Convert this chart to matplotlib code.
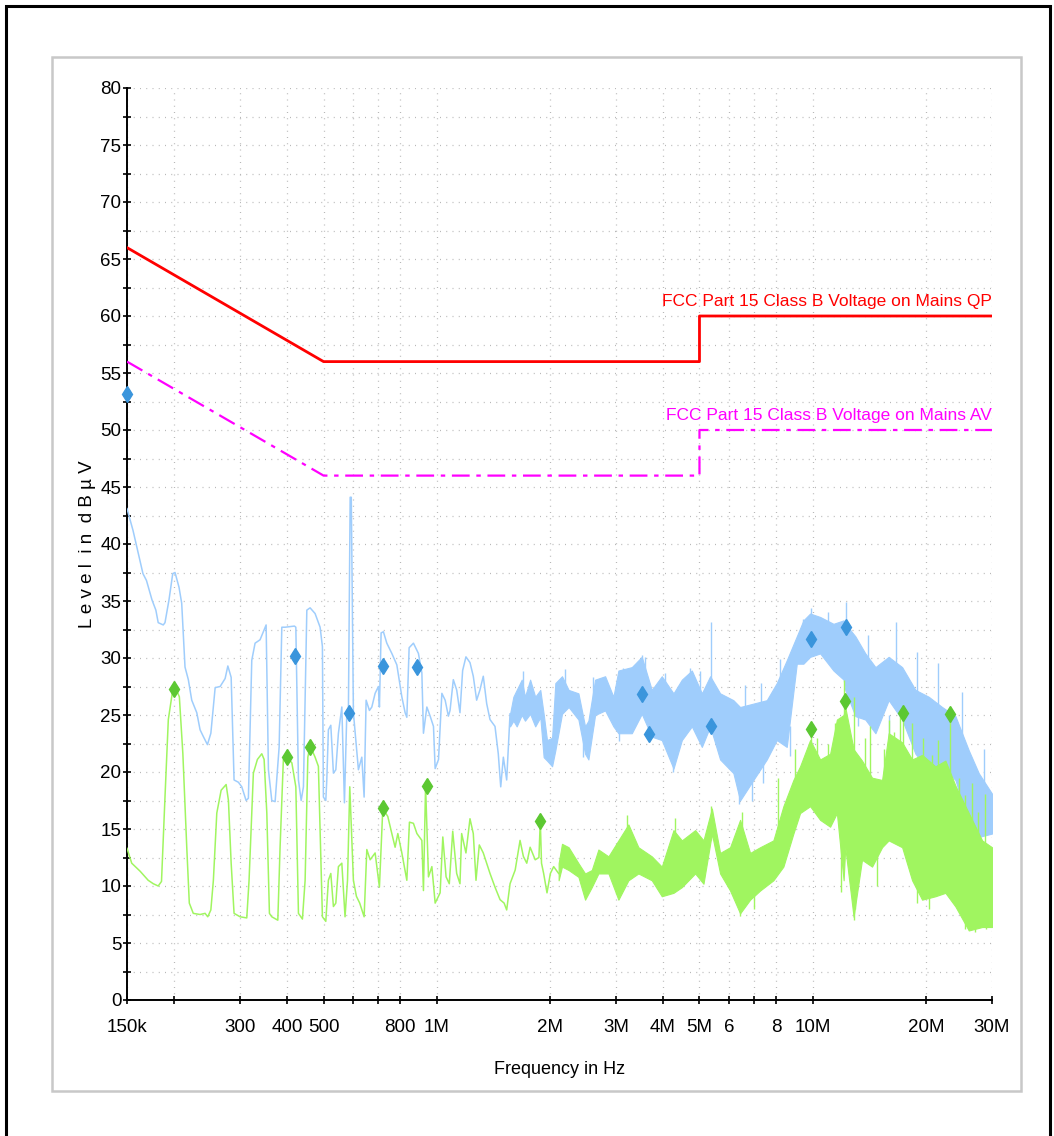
import matplotlib
matplotlib.use("Agg")
import matplotlib.pyplot as plt
from matplotlib.patches import Rectangle
import numpy as np

plt.rcParams['font.family'] = ['Liberation Sans', 'DejaVu Sans']

# limit lines (MHz, dBuV)
qp_limit_f = [0.15, 0.5, 5, 5, 30]
qp_limit_v = [66, 56, 56, 60, 60]
av_limit_f = [0.15, 0.5, 5, 5, 30]
av_limit_v = [56, 46, 46, 50, 50]

# QP trace, thin part (MHz, dBuV)
qp_f = [0.150, 0.1556, 0.1654, 0.169, 0.1748, 0.179, 0.1816, 0.1873, 0.1893, 0.194,
        0.1985, 0.2013, 0.2063, 0.2097, 0.214, 0.2184, 0.223, 0.230, 0.2347, 0.2395,
        0.2455, 0.2507, 0.2574, 0.2654, 0.2736, 0.2782, 0.2839, 0.289, 0.2968, 0.303,
        0.3111, 0.3155, 0.3221, 0.3287, 0.3389, 0.3517, 0.3567, 0.3641, 0.3716, 0.3809,
        0.3872, 0.3951, 0.4183, 0.4219, 0.4287, 0.4359, 0.442, 0.4513, 0.4604, 0.4747,
        0.4895, 0.4965, 0.4995, 0.5069, 0.510, 0.515, 0.5227, 0.5311, 0.539, 0.5476,
        0.5592, 0.5682, 0.5766, 0.5822, 0.5885, 0.5925, 0.6003, 0.6092, 0.619, 0.632,
        0.641, 0.6489, 0.6622, 0.672, 0.6857, 0.6997, 0.704, 0.7113, 0.7214, 0.7366,
        0.7596, 0.7832, 0.8076, 0.8241, 0.8327, 0.8445, 0.867, 0.894, 0.913, 0.9219,
        0.9413, 0.9606, 0.9803, 0.9904, 1.011, 1.032, 1.053, 1.074, 1.085, 1.107,
        1.130, 1.153, 1.172, 1.196, 1.226, 1.251, 1.277, 1.303, 1.330, 1.358,
        1.386, 1.429, 1.458, 1.480, 1.504, 1.535, 1.567]
qp_v = [43.1, 41.2, 37.4, 36.8, 35.1, 34.2, 33.1, 32.9, 33.1, 35.1,
        37.4, 37.5, 36.2, 34.8, 29.2, 28.1, 26.3, 25.2, 23.7, 23.1,
        22.4, 23.4, 27.4, 27.5, 28.2, 29.3, 28.3, 19.3, 19.1, 18.7,
        17.5, 17.7, 29.8, 31.3, 31.6, 32.9, 20.2, 17.5, 17.4, 22.2,
        32.7, 32.7, 32.8, 32.7, 19.3, 17.5, 18.7, 34.2, 34.4, 33.9,
        32.7, 31.0, 17.8, 17.5, 19.3, 23.7, 24.1, 19.9, 20.2, 23.4,
        25.7, 17.3, 25.2, 25.4, 44.1, 44.1, 25.2, 22.8, 20.2, 21.3,
        17.8, 26.3, 25.4, 25.7, 26.9, 27.5, 25.7, 32.2, 32.3, 31.3,
        30.4, 29.4, 26.6, 25.2, 24.8, 30.9, 31.3, 30.4, 28.7, 23.4,
        25.7, 24.9, 24.0, 20.3, 21.1, 26.9, 26.3, 24.9, 25.4, 28.1,
        27.2, 25.2, 28.9, 30.1, 29.6, 28.4, 26.3, 27.2, 28.4, 26.0,
        24.6, 24.0, 21.6, 18.7, 21.3, 19.3, 25.1]

# QP trace, dense part: envelope (MHz, upper dBuV, lower dBuV)
qp_band_f = [1.567, 1.599, 1.632, 1.683, 1.717, 1.772, 1.828, 1.886, 1.925, 1.965,
             2.027, 2.068, 2.154, 2.243, 2.382, 2.481, 2.532, 2.638, 2.805, 2.951,
             3.043, 3.303, 3.511, 3.733, 3.969, 4.264, 4.488, 4.771, 5.073, 5.338,
             5.673, 6.154, 6.412, 6.956, 7.550, 8.027, 8.534, 9.074, 9.449, 9.846,
             10.47, 11.36, 12.09, 12.21, 12.99, 13.81, 14.69, 15.93, 17.30, 18.77,
             20.36, 22.10, 23.98, 26.02, 27.66, 30.0]
qp_band_hi = [25.1, 26.6, 27.2, 28.1, 26.6, 28.1, 26.6, 27.2, 25.1, 22.8,
              23.0, 27.8, 28.4, 27.2, 26.9, 24.0, 24.5, 28.1, 28.4, 26.6,
              28.9, 29.2, 30.1, 27.2, 28.4, 26.9, 28.1, 28.9, 26.9, 28.4,
              26.9, 26.3, 25.7, 26.0, 26.3, 27.8, 29.8, 31.9, 33.3, 33.9,
              33.6, 33.0, 33.3, 33.0, 31.9, 30.4, 29.2, 30.1, 29.2, 27.2,
              26.6, 25.7, 24.9, 21.9, 19.9, 18.1]
qp_band_lo = [24.0, 24.5, 24.0, 25.0, 24.5, 25.1, 24.0, 24.8, 21.3, 21.0,
              20.5, 21.9, 25.1, 25.7, 24.6, 21.6, 21.1, 25.0, 25.4, 24.0,
              23.4, 23.4, 25.1, 23.1, 22.8, 20.3, 22.8, 24.0, 22.2, 24.0,
              21.1, 19.9, 17.5, 19.3, 21.1, 22.8, 22.2, 29.5, 29.5, 30.1,
              30.4, 28.9, 28.1, 27.2, 24.9, 24.6, 23.4, 26.3, 24.6, 21.6,
              20.2, 20.5, 19.3, 15.5, 14.3, 14.6]
qp_spike_f = [1.70, 2.20, 2.60, 3.13, 3.30, 3.51, 3.58, 4.06, 4.72, 5.02, 5.36,
              6.6, 7.3, 8.2, 9.4, 9.9, 11.0, 12.3, 14.0, 16.7, 19.0, 21.6, 25.0, 28.5]
qp_spike_top = [28.9, 29.0, 28.3, 29.1, 29.2, 30.3, 30.1, 28.7, 29.1, 28.9, 33.2,
                27.6, 27.8, 29.9, 33.4, 34.4, 34.0, 34.9, 32.0, 33.2, 30.5, 29.6, 27.0, 22.0]
qp_spike_base = [26.0, 26.0, 24.0, 26.0, 26.0, 26.0, 26.0, 25.0, 26.0, 25.0, 26.0,
                 23.0, 24.0, 26.0, 30.0, 31.0, 30.0, 31.0, 28.0, 28.0, 25.0, 25.0, 22.0, 17.0]
qp_dip_f = [2.45, 3.05, 4.25, 6.35, 6.9, 7.4, 8.7, 13.2, 16.0, 27.0]
qp_dip_bot = [21.3, 22.7, 20.0, 17.2, 17.5, 19.0, 21.4, 24.0, 22.0, 13.6]
qp_dip_top = [24.0, 25.0, 23.0, 21.0, 21.0, 22.0, 24.0, 27.0, 25.0, 16.0]

# AV trace, thin part
av_f = [0.150, 0.1544, 0.1625, 0.1708, 0.1762, 0.1816, 0.1853, 0.1893, 0.1932, 0.1985,
        0.2013, 0.2067, 0.2112, 0.2163, 0.2197, 0.2251, 0.2347, 0.2420, 0.2460, 0.2507,
        0.2546, 0.2600, 0.2670, 0.2753, 0.2792, 0.2839, 0.2890, 0.2999, 0.3124, 0.3168,
        0.3253, 0.3334, 0.3425, 0.3474, 0.3532, 0.3589, 0.3641, 0.3778, 0.3831, 0.3909,
        0.3991, 0.4118, 0.4219, 0.4287, 0.4393, 0.4466, 0.4541, 0.4604, 0.4747, 0.4844,
        0.4965, 0.5069, 0.515, 0.5227, 0.5311, 0.539, 0.5476, 0.5592, 0.5703, 0.5790,
        0.5871, 0.6003, 0.6114, 0.6239, 0.641, 0.6517, 0.6651, 0.6857, 0.704, 0.7187,
        0.7410, 0.7596, 0.7750, 0.7880, 0.8076, 0.8327, 0.8461, 0.867, 0.8857, 0.913,
        0.9219, 0.934, 0.9507, 0.9707, 0.9904, 1.021, 1.038, 1.059, 1.080, 1.103,
        1.130, 1.153, 1.165, 1.196, 1.226, 1.251, 1.272, 1.298, 1.330, 1.386,
        1.429, 1.474, 1.511, 1.535, 1.567, 1.617, 1.666, 1.700, 1.736, 1.772,
        1.828, 1.870, 1.886, 1.900, 1.925, 1.965, 2.006, 2.047, 2.110]
av_v = [13.3, 12.0, 11.3, 10.5, 10.2, 10.0, 10.4, 17.8, 24.6, 27.2,
        27.5, 26.6, 21.6, 13.4, 8.5, 7.6, 7.5, 7.6, 7.3, 7.9,
        10.5, 16.4, 18.4, 18.9, 17.5, 12.0, 7.6, 7.3, 7.2, 10.5,
        19.9, 21.1, 21.6, 21.1, 16.4, 7.6, 7.3, 7.0, 13.4, 21.1,
        21.3, 20.8, 18.7, 7.6, 7.1, 10.5, 21.3, 22.3, 21.3, 20.5,
        7.3, 6.9, 10.5, 11.1, 8.2, 8.5, 11.7, 12.0, 7.3, 10.5,
        18.7, 10.5, 9.1, 8.5, 7.3, 13.2, 12.3, 12.9, 9.9, 16.8,
        16.1, 14.6, 13.4, 14.6, 12.9, 10.5, 15.6, 15.5, 14.6, 14.0,
        9.6, 18.8, 10.8, 11.7, 8.5, 9.4, 14.3, 10.8, 10.2, 14.8,
        11.1, 10.2, 14.6, 12.9, 15.9, 14.6, 10.5, 13.6, 12.9, 11.1,
        9.9, 8.8, 8.5, 7.9, 10.2, 11.4, 14.0, 12.6, 12.0, 13.4,
        12.3, 12.5, 15.7, 12.0, 11.1, 9.4, 11.1, 11.7, 11.1]

# AV trace, dense part
av_band_f = [2.110, 2.154, 2.243, 2.382, 2.481, 2.585, 2.692, 2.863, 3.043, 3.235,
             3.439, 3.733, 3.969, 4.264, 4.488, 4.869, 5.124, 5.394, 5.673, 6.031,
             6.412, 6.817, 7.247, 7.862, 8.359, 8.888, 9.260, 9.846, 10.47, 11.13,
             11.60, 12.09, 12.21, 12.85, 13.53, 14.39, 15.30, 15.93, 17.30, 18.39,
             19.55, 21.21, 22.55, 23.98, 26.02, 28.24, 30.0]
av_band_hi = [12.0, 13.7, 13.4, 12.0, 11.1, 11.4, 13.2, 12.6, 14.0, 15.4,
              13.4, 12.6, 11.7, 14.9, 14.0, 14.9, 14.0, 16.8, 12.9, 13.4,
              15.8, 12.9, 13.4, 14.0, 17.0, 19.3, 20.5, 22.8, 21.1, 21.6,
              24.6, 25.0, 25.7, 22.0, 21.0, 19.5, 19.3, 23.4, 22.6, 21.1,
              21.5, 20.5, 21.0, 18.8, 16.4, 14.0, 13.4]
av_band_lo = [10.5, 11.7, 11.4, 10.8, 8.8, 9.9, 11.1, 11.1, 8.8, 10.5,
              11.1, 10.5, 9.1, 9.4, 9.9, 11.1, 10.2, 14.6, 11.1, 9.6,
              7.6, 8.8, 9.6, 10.5, 11.7, 14.6, 16.4, 17.0, 15.8, 15.2,
              16.4, 10.5, 13.4, 7.3, 12.3, 11.7, 13.4, 14.0, 13.4, 10.5,
              8.8, 9.1, 9.4, 8.2, 6.1, 6.4, 6.4]
av_spike_f = [3.2, 4.3, 5.35, 6.5, 8.1, 9.0, 9.9, 10.3, 11.0, 11.5, 12.09, 12.85,
              13.8, 14.24, 15.5, 15.93, 16.5, 17.1, 17.37, 18.39, 19.0, 19.7, 20.8,
              21.6, 22.2, 23.16, 24.5, 25.4, 26.6, 27.5, 28.8]
av_spike_top = [16.2, 16.0, 17.0, 16.5, 19.5, 22.0, 23.8, 23.0, 22.5, 24.3, 28.1, 26.6,
                23.0, 24.0, 22.0, 24.6, 23.5, 24.9, 25.2, 24.3, 21.0, 23.0, 21.5,
                22.8, 20.0, 25.1, 19.5, 18.0, 19.0, 16.5, 18.1]
av_spike_base = [12.0, 12.0, 14.0, 12.0, 14.0, 17.0, 19.0, 19.0, 19.0, 19.0, 18.0, 18.0,
                 16.0, 16.0, 16.0, 18.0, 18.0, 18.0, 18.0, 16.0, 16.0, 16.0, 15.0,
                 15.0, 15.0, 15.0, 13.0, 12.0, 11.0, 10.0, 10.0]
av_dip_f = [6.4, 7.0, 11.9, 12.85, 13.0, 14.8, 18.9, 20.4, 25.5, 27.0, 29.0]
av_dip_bot = [7.4, 8.0, 9.5, 7.0, 8.0, 10.0, 8.5, 8.0, 6.2, 6.0, 6.2]
av_dip_top = [10.0, 10.5, 14.0, 11.0, 12.0, 13.0, 11.5, 11.0, 9.0, 8.5, 9.0]

# final measurement points
qp_mk_f = [0.15, 0.42, 0.586, 0.718, 0.885, 3.51, 3.66, 5.38, 9.92, 12.25]
qp_mk_v = [53.2, 30.2, 25.2, 29.3, 29.2, 26.8, 23.3, 24.0, 31.7, 32.7]
av_mk_f = [0.2, 0.40, 0.46, 0.718, 0.94, 1.88, 9.92, 12.17, 17.37, 23.16]
av_mk_v = [27.3, 21.3, 22.2, 16.8, 18.8, 15.7, 23.8, 26.2, 25.2, 25.1]

xtick_f = [0.15, 0.2, 0.3, 0.4, 0.5, 0.6, 0.7, 0.8, 1, 2, 3, 4, 5, 6, 7, 8, 10, 20, 30]
xtick_lbl = ["150k", "", "300", "400", "500", "", "", "800", "1M", "2M", "3M", "4M",
             "5M", "6", "", "8", "10M", "20M", "30M"]

MHZ = 1e6
qp_col = "#9fcdfc"
av_col = "#a0f560"

fig = plt.figure(figsize=(10.54, 11.36), dpi=100)
ax = fig.add_axes([127/1054, 1 - 1000/1136, 865/1054, 912/1136])

# frames around the plot
fig.add_artist(Rectangle((6/1054, -0.02), 1044/1054, 1.02 - 6/1136, transform=fig.transFigure,
                         fill=False, ec="black", lw=2.2))
fig.add_artist(Rectangle((52/1054, 1 - 1091/1136), 969/1054, 1034/1136, transform=fig.transFigure,
                         fill=False, ec="#c8c8c8", lw=1.8))

ax.set_xscale("log")
ax.set_xlim(0.15 * MHZ, 30 * MHZ)
ax.set_ylim(0, 80)

ax.plot(np.array(qp_f) * MHZ, qp_v, color=qp_col, lw=1.1, zorder=3)
ax.fill_between(np.array(qp_band_f) * MHZ, qp_band_lo, qp_band_hi, color=qp_col, lw=0.8, zorder=3)
ax.vlines(np.array(qp_spike_f) * MHZ, qp_spike_base, qp_spike_top, color=qp_col, lw=1.0, zorder=3)
ax.vlines(np.array(qp_dip_f) * MHZ, qp_dip_bot, qp_dip_top, color=qp_col, lw=1.0, zorder=3)

ax.plot(np.array(av_f) * MHZ, av_v, color=av_col, lw=1.1, zorder=4)
ax.fill_between(np.array(av_band_f) * MHZ, av_band_lo, av_band_hi, color=av_col, lw=0.8, zorder=4)
ax.vlines(np.array(av_spike_f) * MHZ, av_spike_base, av_spike_top, color=av_col, lw=1.0, zorder=4)
ax.vlines(np.array(av_dip_f) * MHZ, av_dip_bot, av_dip_top, color=av_col, lw=1.0, zorder=4)

ax.plot(np.array(qp_limit_f) * MHZ, qp_limit_v, color="#ff0000", lw=2.0, zorder=5)
ax.plot(np.array(av_limit_f) * MHZ, av_limit_v, color="#ff00ff", lw=1.6,
        ls=(0, (8, 3, 2, 3)), zorder=5)

ax.plot(np.array(qp_mk_f) * MHZ, qp_mk_v, ls="none", marker="d", ms=8.5,
        color="#3a95dc", zorder=6, clip_on=False)
ax.plot(np.array(av_mk_f) * MHZ, av_mk_v, ls="none", marker="d", ms=8.5,
        color="#5cc832", zorder=6, clip_on=False)

ax.text(30 * MHZ, 60.6, "FCC Part 15 Class B Voltage on Mains QP", color="#ff0000",
        ha="right", va="bottom", fontsize=12.5)
ax.text(30 * MHZ, 50.6, "FCC Part 15 Class B Voltage on Mains AV", color="#ff00ff",
        ha="right", va="bottom", fontsize=12.5)

# axes styling
ax.set_xticks(np.array(xtick_f) * MHZ, xtick_lbl)
ax.xaxis.set_minor_locator(matplotlib.ticker.NullLocator())
ax.set_yticks(np.arange(0, 81, 5))
ax.set_yticks(np.arange(0, 81, 2.5), minor=True)
ax.tick_params(axis="both", which="both", direction="inout", length=6, width=1.2,
               labelsize=13.5, color="black")
ax.tick_params(axis="x", pad=11)
ax.tick_params(axis="y", pad=1)
ax.grid(True, which="both", color="#b8b8b8", lw=0.9, ls=(0, (0.8, 4.2)))
ax.set_axisbelow(True)
for s in ["top", "right"]:
    ax.spines[s].set_visible(False)
for s in ["left", "bottom"]:
    ax.spines[s].set_linewidth(1.4)

ax.set_xlabel("Frequency in Hz", fontsize=13, labelpad=18)
ax.set_ylabel("L e v e l  i n  d B µ V", fontsize=13.5, labelpad=3)

fig.savefig("out.png", dpi=100)
